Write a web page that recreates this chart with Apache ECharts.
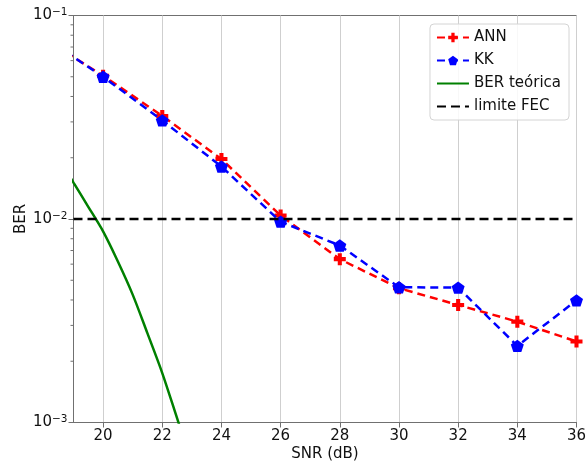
<!DOCTYPE html>
<html>
<head>
<meta charset="utf-8">
<script src="https://cdn.jsdelivr.net/npm/echarts@6/dist/echarts.min.js"></script>
<style>
  html, body { margin: 0; padding: 0; background: #ffffff; }
  #chart { width: 587px; height: 464px; }
</style>
</head>
<body>
<div id="chart"></div>
<script>
// SNR points (dB) of the measured curves
const snr = [18, 20, 22, 24, 26, 28, 30, 32, 34, 36];
// Measured BER, neural-network receiver
const berANN = [0.077, 0.0506, 0.0321, 0.0197, 0.0104, 0.00635, 0.00457, 0.00378, 0.00313, 0.0025];
// Measured BER, Kramers-Kronig receiver
const berKK = [0.078, 0.0500, 0.0305, 0.0181, 0.0097, 0.00741, 0.00462, 0.00460, 0.00238, 0.00398];
// Theoretical BER curve
const snrTheory = [18.5, 19, 19.5, 20, 20.5, 21, 21.5, 22, 22.5, 23];
const berTheory = [0.0200, 0.0151, 0.01148, 0.00869, 0.00618, 0.00425, 0.00274, 0.00175, 0.00105, 0.00063];
// FEC threshold
const fecSnr = [19, 36];
const fecLimit = 0.01;
// Axis ticks
const xMin = 19, xMax = 36;
const xTicks = [20, 22, 24, 26, 28, 30, 32, 34, 36];
const yTicks = [0.001, 0.01, 0.1];
const yMinorTicks = [0.002, 0.003, 0.004, 0.005, 0.006, 0.007, 0.008, 0.009,
                     0.02, 0.03, 0.04, 0.05, 0.06, 0.07, 0.08, 0.09];

const FONT = 'DejaVu Sans';
const AXIS_GRAY = '#707070';

const plusPath = 'path://M33,0H67V33H100V67H67V100H33V67H0V33H33Z';
const pentagonPath = 'path://M50,0L97.6,34.5L79.4,90.5L20.6,90.5L2.4,34.5Z';

const pair = (xs, ys) => xs.map((x, i) => [x, ys[i]]);

const chart = echarts.init(document.getElementById('chart'), null, { renderer: 'canvas' });

chart.setOption({
  animation: false,
  backgroundColor: '#ffffff',
  textStyle: { fontFamily: FONT },
  grid: {
    left: 73.5, right: 10.5, top: 15.5, bottom: 41.5,
    show: true, borderColor: AXIS_GRAY, borderWidth: 1,
    backgroundColor: 'transparent',
    containLabel: false,
    outerBoundsMode: 'none'
  },
  legend: {
    data: [
      { name: 'ANN' },
      { name: 'KK' },
      { name: 'BER teórica', itemStyle: { opacity: 0 } },
      { name: 'limite FEC', itemStyle: { opacity: 0 } }
    ],
    orient: 'vertical',
    right: 18, top: 24,
    padding: [6, 8, 6, 6],
    itemWidth: 32, itemHeight: 12, itemGap: 8,
    backgroundColor: 'rgba(255,255,255,0.85)',
    borderColor: '#d4d4d4', borderWidth: 1, borderRadius: 4,
    textStyle: { fontFamily: FONT, fontSize: 15, color: '#111' }
  },
  xAxis: {
    type: 'value',
    min: xMin, max: xMax,
    name: 'SNR (dB)', nameLocation: 'middle', nameGap: 24, nameMoveOverlap: false,
    nameTextStyle: { fontFamily: FONT, fontSize: 15, color: '#111' },
    axisLine: { show: true, lineStyle: { color: AXIS_GRAY, width: 1 } },
    axisTick: { show: true, inside: false, length: 5, customValues: xTicks, lineStyle: { color: AXIS_GRAY } },
    axisLabel: { customValues: xTicks, margin: 6, fontFamily: FONT, fontSize: 15, color: '#111' },
    splitLine: { show: true, lineStyle: { color: '#cfcfcf', width: 1 } }
  },
  yAxis: {
    type: 'log', logBase: 10,
    min: yTicks[0], max: yTicks[yTicks.length - 1],
    name: 'BER', nameLocation: 'middle', nameGap: 45, nameRotate: 90, nameMoveOverlap: false,
    nameTextStyle: { fontFamily: FONT, fontSize: 15, color: '#111' },
    axisLine: { show: true, lineStyle: { color: AXIS_GRAY, width: 1 } },
    axisTick: { show: true, inside: false, length: 5, lineStyle: { color: AXIS_GRAY } },
    axisLabel: {
      margin: 6,
      fontFamily: FONT, fontSize: 15, color: '#111',
      formatter: v => '10{sup|−' + Math.round(-Math.log10(v)) + '}',
      rich: {
        sup: { fontFamily: FONT, fontSize: 10.5, color: '#111', verticalAlign: 'top', padding: [0, 0, 6, 0] }
      }
    },
    splitLine: { show: false }
  },
  series: [
    {
      name: 'ANN', type: 'line',
      data: pair(snr, berANN),
      clip: true,
      symbol: plusPath, symbolSize: 12, symbolKeepAspect: true,
      itemStyle: { color: '#ff0000' },
      lineStyle: { color: '#ff0000', width: 2.5, type: [8, 5] },
      z: 2
    },
    {
      name: 'KK', type: 'line',
      data: pair(snr, berKK),
      clip: true,
      symbol: pentagonPath, symbolSize: 13, symbolKeepAspect: true,
      itemStyle: { color: '#0000ff' },
      lineStyle: { color: '#0000ff', width: 2.5, type: [8, 5] },
      z: 3
    },
    {
      name: 'BER teórica', type: 'line',
      data: pair(snrTheory, berTheory),
      clip: true, smooth: 0.3,
      symbol: 'none',
      itemStyle: { color: '#008000' },
      lineStyle: { color: '#008000', width: 2.5 },
      z: 4
    },
    {
      name: 'limite FEC', type: 'line',
      data: fecSnr.map(x => [x, fecLimit]),
      clip: true,
      symbol: 'none',
      itemStyle: { color: '#000000' },
      lineStyle: { color: '#000000', width: 2.5, type: [9, 5] },
      z: 5
    },
    {
      // minor ticks of the log axis at 2..9 of each decade
      name: 'minor-ticks', type: 'custom',
      coordinateSystem: 'cartesian2d',
      data: yMinorTicks.map(v => [xMin, v]),
      silent: true, clip: false,
      renderItem: (params, api) => {
        const p = api.coord([api.value(0), api.value(1)]);
        return {
          type: 'line',
          shape: { x1: p[0] - 3, y1: p[1], x2: p[0], y2: p[1] },
          style: { stroke: AXIS_GRAY, lineWidth: 1 }
        };
      },
      z: 1
    }
  ]
});
</script>
</body>
</html>
